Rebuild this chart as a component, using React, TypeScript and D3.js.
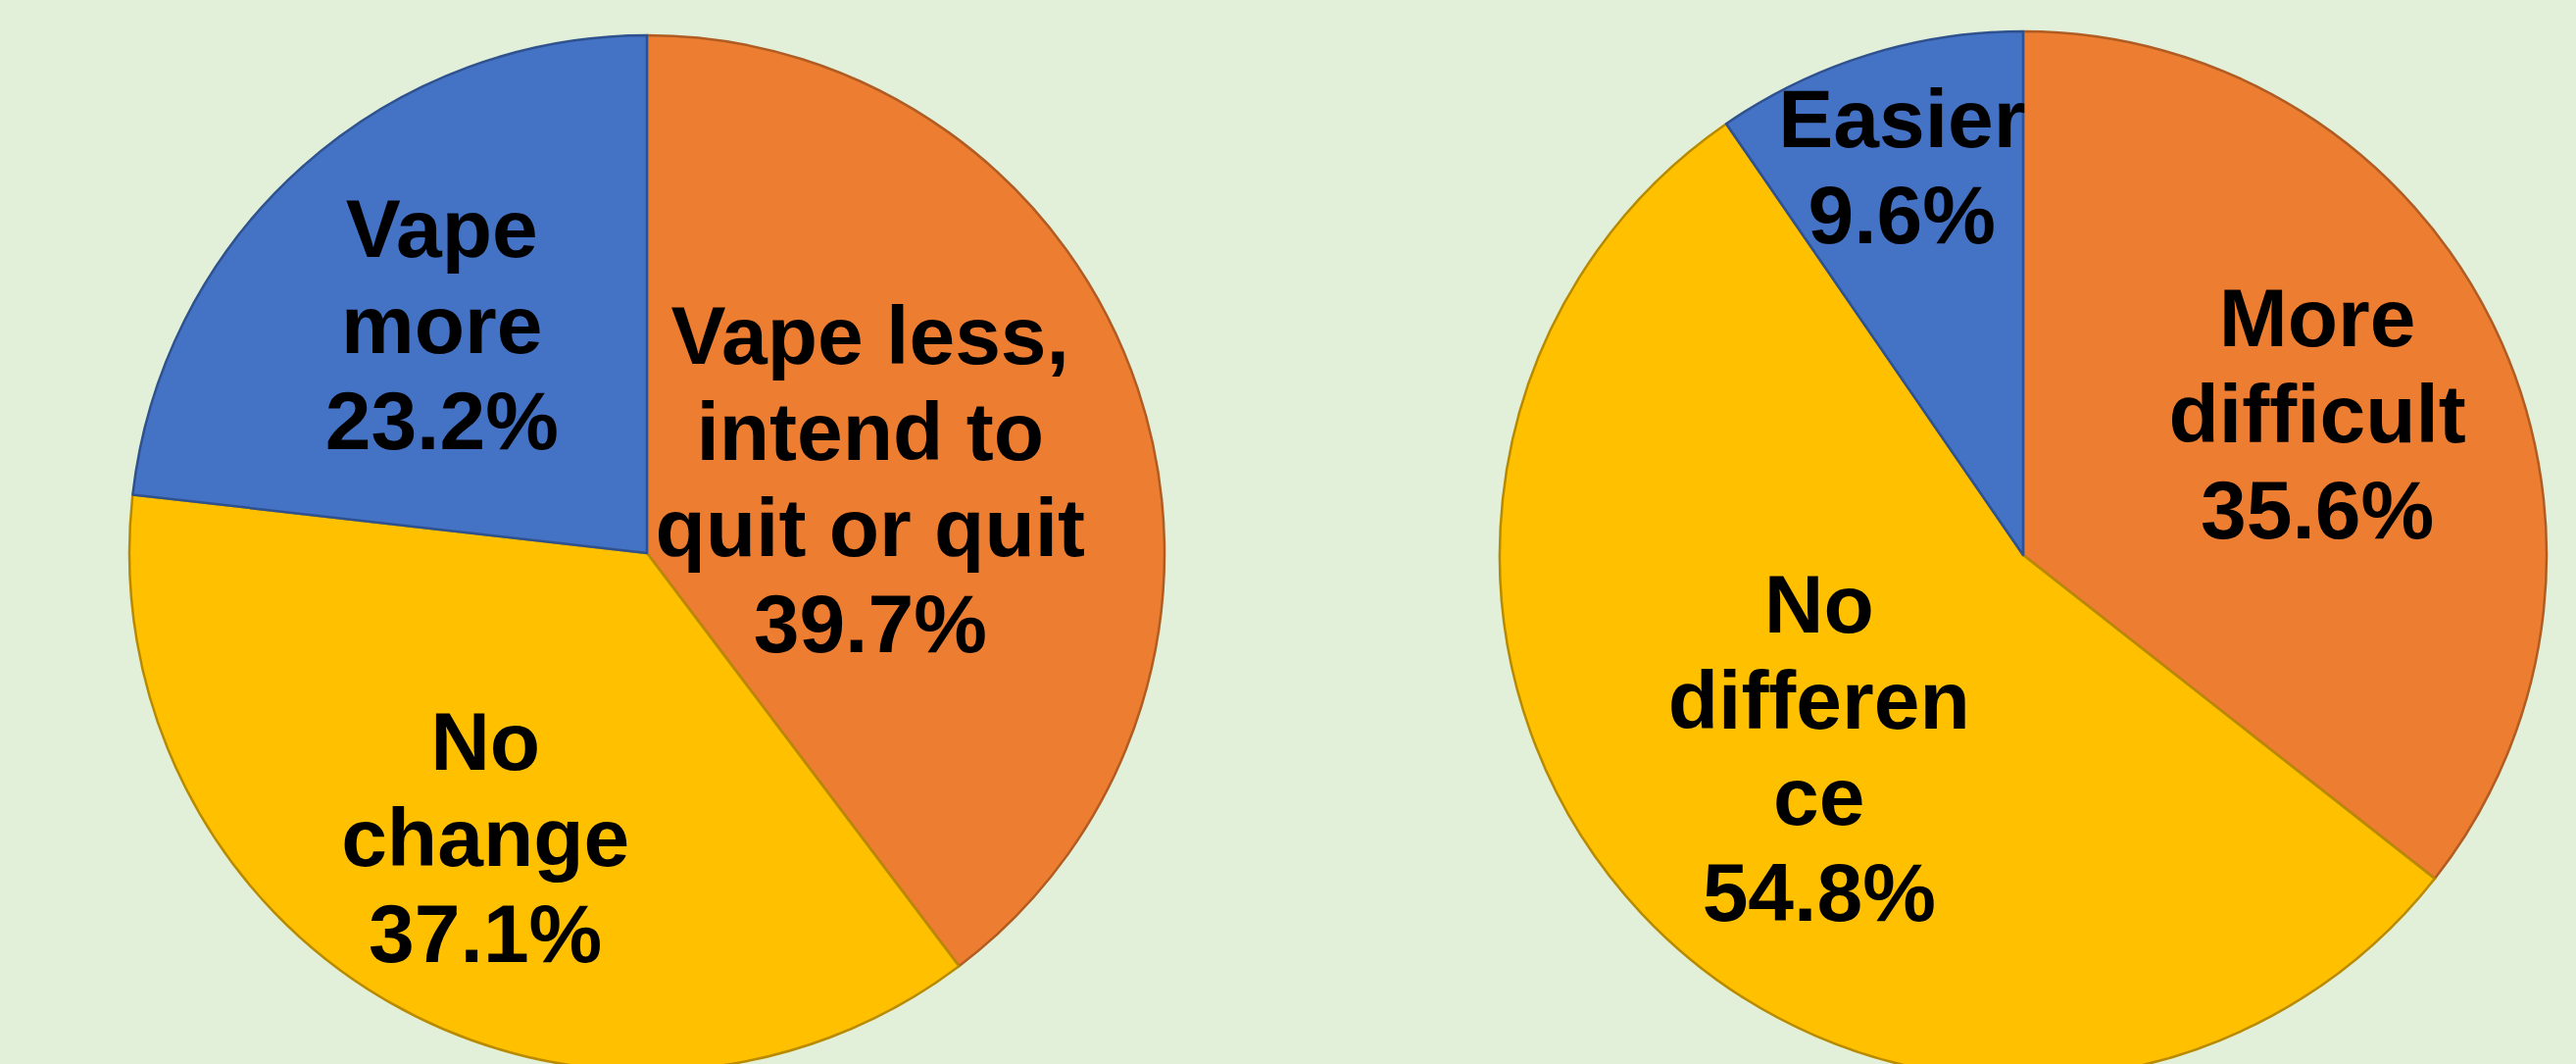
import React from "react";
import * as d3 from "d3";

const leftCategories = ["Vape less, intend to quit or quit", "No change", "Vape more"];
const leftValues = [39.7, 37.1, 23.2];
const leftLabelLines = [["Vape less,", "intend to", "quit or quit", "39.7%"], ["No", "change", "37.1%"], ["Vape", "more", "23.2%"]];

const rightCategories = ["More difficult", "No difference", "Easier"];
const rightValues = [35.6, 54.8, 9.6];
const rightLabelLines = [["More", "difficult", "35.6%"], ["No", "differen", "ce", "54.8%"], ["Easier", "9.6%"]];

const fills = ["#ED7D31", "#FFC000", "#4472C4"];
const strokes = ["#B05C22", "#B88A00", "#2F528F"];

const W = 2628;
const H = 1085;
const FONT = 84;
const LINE = 98;
const CAP = 61;

function Pie({ cx, cy, r, values, lines, labelRatios, labelDx }: any) {
  const pie = d3.pie<number>().sort(null).value((d) => d);
  const arcs = pie(values);
  const arc = d3.arc<d3.PieArcDatum<number>>().innerRadius(0).outerRadius(r);
  return (
    <g transform={`translate(${cx},${cy})`}>
      {arcs.map((a, i) => (
        <path key={"s" + i} d={arc(a) || ""} fill={fills[i]} stroke={strokes[i]} strokeWidth={2.5} strokeLinejoin="round" />
      ))}
      {arcs.map((a, i) => {
        const R = r * labelRatios[i];
        const [lx, ly] = d3.arc<d3.PieArcDatum<number>>().innerRadius(R).outerRadius(R).centroid(a);
        const ls = lines[i];
        const blockH = (ls.length - 1) * LINE + CAP;
        const firstBase = ly - blockH / 2 + CAP;
        return (
          <text key={"t" + i} x={lx + (labelDx ? labelDx[i] : 0)} textAnchor="middle" fontFamily="'Liberation Sans', Arial, sans-serif" fontWeight="bold" fontSize={FONT} fill="#000">
            {ls.map((t: string, j: number) => (
              <tspan key={j} x={lx + (labelDx ? labelDx[i] : 0)} y={firstBase + j * LINE}>{t}</tspan>
            ))}
          </text>
        );
      })}
    </g>
  );
}

export default function App() {
  return (
    <svg width={W} height={H} style={{ position: "absolute", left: 0, top: 0, display: "block" }}>
      <rect x={0} y={0} width={W} height={H} fill="#E2F0D9" />
      <Pie cx={660} cy={564} r={528} values={leftValues} lines={leftLabelLines} labelRatios={[0.455, 0.63, 0.595]} />
      <Pie cx={2064} cy={566} r={534} values={rightValues} lines={rightLabelLines} labelRatios={[0.625, 0.535, 0.78]} />
    </svg>
  );
}
